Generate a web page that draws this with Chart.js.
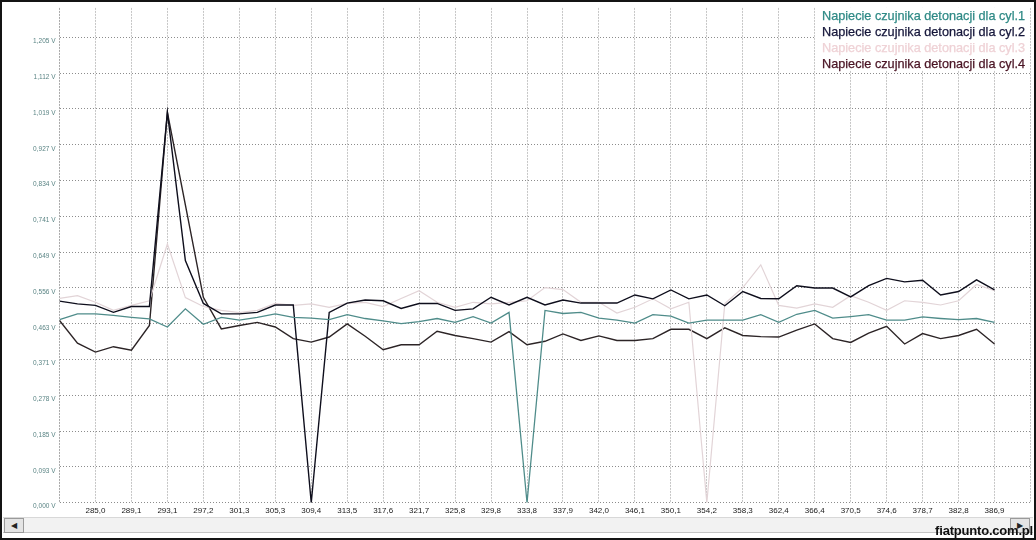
<!DOCTYPE html>
<html lang="pl">
<head>
    <meta charset="UTF-8">
    <title>Napiecie czujnika detonacji</title>
    <style>
        * {
            margin: 0;
            padding: 0;
            box-sizing: border-box;
        }

        body {
            background-color: #ffffff;
            font-family: 'Liberation Sans', Arial, sans-serif;
        }

        .frame {
            position: relative;
            width: 1036px;
            height: 540px;
            background: #ffffff;
            overflow: hidden;
        }

        .frame canvas {
            position: absolute;
            left: 0;
            top: 0;
        }

        /* black border round the picture */
        .border {
            position: absolute;
            inset: 0;
            border: 2px solid #141414;
            pointer-events: none;
        }

        /* legend in the top right corner */
        .legend {
            position: absolute;
            left: 815px;
            top: 8px;
            width: 215px;
            height: 62px;
            background: #ffffff;
            padding: 0 0 0 7px;
            font-size: 12.7px;
            line-height: 16px;
            white-space: nowrap;
            -webkit-text-stroke: 0.25px;
        }

        /* scrollbar under the plot */
        .scroll {
            position: absolute;
            left: 3px;
            right: 3px;
            top: 517px;
            height: 16px;
            background: #f2f2f2;
            border-top: 1px solid #d8d8d8;
            border-bottom: 1px solid #c4c4c4;
        }

        .btn {
            position: absolute;
            top: 0;
            width: 20px;
            height: 15px;
            background: #e4e4e4;
            border: 1px solid #9a9a9a;
            font-size: 8px;
            line-height: 13px;
            text-align: center;
            color: #222;
        }

        .btn.left { left: 1px; }
        .btn.right { right: 3px; }

        .mark {
            position: absolute;
            right: 3px;
            top: 523px;
            font-size: 13px;
            font-weight: bold;
            color: #111;
            letter-spacing: -0.2px;
        }
    </style>
</head>
<body>

<div class="frame">
    <canvas id="knockChart" width="1036" height="540"></canvas>

    <div class="legend">
        <div style="color:#2f8a86">Napiecie czujnika detonacji dla cyl.1</div>
        <div style="color:#15163a">Napiecie czujnika detonacji dla cyl.2</div>
        <div style="color:#efd2d6">Napiecie czujnika detonacji dla cyl.3</div>
        <div style="color:#4a1424">Napiecie czujnika detonacji dla cyl.4</div>
    </div>

    <div class="scroll">
        <div class="btn left">&#9664;</div>
        <div class="btn right">&#9654;</div>
    </div>
    <div class="mark">fiatpunto.com.pl</div>
    <div class="border"></div>
</div>

<script src="https://cdn.jsdelivr.net/npm/chart.js"></script>
<script>
    // Tick labels
    const xTickLabels = ['285,0', '289,1', '293,1', '297,2', '301,3', '305,3', '309,4', '313,5', '317,6',
        '321,7', '325,8', '329,8', '333,8', '337,9', '342,0', '346,1', '350,1', '354,2', '358,3',
        '362,4', '366,4', '370,5', '374,6', '378,7', '382,8', '386,9'];

    const yTickValues = [0, 0.0927, 0.1854, 0.2781, 0.3708, 0.4635, 0.5562, 0.6488, 0.7415,
        0.8342, 0.9269, 1.0196, 1.1123, 1.2050];
    const yTickLabels = ['0,000 V', '0,093 V', '0,185 V', '0,278 V', '0,371 V', '0,463 V', '0,556 V',
        '0,649 V', '0,741 V', '0,834 V', '0,927 V', '1,019 V', '1,112 V', '1,205 V'];

    // Sensor voltage per sample (V), one sample every half tick
    const cyl1 = [0.474, 0.489, 0.489, 0.485, 0.480, 0.476, 0.455, 0.502, 0.462, 0.480,
        0.473, 0.480, 0.489, 0.480, 0.478, 0.474, 0.487, 0.477, 0.471, 0.464,
        0.469, 0.477, 0.467, 0.482, 0.465, 0.493, 0.000, 0.498, 0.490, 0.493,
        0.478, 0.473, 0.465, 0.487, 0.483, 0.465, 0.473, 0.473, 0.473, 0.487,
        0.467, 0.488, 0.498, 0.478, 0.482, 0.487, 0.473, 0.473, 0.481, 0.477,
        0.474, 0.477, 0.467];

    const cyl2 = [0.522, 0.515, 0.511, 0.493, 0.508, 0.508, 1.011, 0.627, 0.516, 0.489,
        0.489, 0.493, 0.512, 0.512, 0.000, 0.493, 0.517, 0.525, 0.523, 0.503,
        0.516, 0.516, 0.498, 0.502, 0.532, 0.512, 0.532, 0.512, 0.525, 0.517,
        0.517, 0.517, 0.538, 0.528, 0.551, 0.528, 0.538, 0.510, 0.547, 0.529,
        0.528, 0.562, 0.556, 0.556, 0.533, 0.562, 0.581, 0.572, 0.576, 0.538,
        0.547, 0.577, 0.551];

    const cyl3 = [0.529, 0.536, 0.519, 0.498, 0.511, 0.523, 0.670, 0.531, 0.508, 0.498,
        0.492, 0.498, 0.516, 0.511, 0.515, 0.506, 0.516, 0.519, 0.508, 0.529,
        0.549, 0.519, 0.506, 0.519, 0.515, 0.519, 0.523, 0.557, 0.552, 0.519,
        0.519, 0.491, 0.506, 0.528, 0.502, 0.519, 0.000, 0.516, 0.557, 0.616,
        0.511, 0.504, 0.515, 0.506, 0.536, 0.519, 0.498, 0.523, 0.519, 0.512,
        0.523, 0.565, 0.549];

    const cyl4 = [0.472, 0.413, 0.390, 0.404, 0.395, 0.459, 1.011, 0.771, 0.532, 0.450,
        0.459, 0.467, 0.455, 0.425, 0.416, 0.429, 0.463, 0.431, 0.396, 0.409,
        0.409, 0.444, 0.433, 0.425, 0.416, 0.443, 0.409, 0.418, 0.437, 0.420,
        0.432, 0.420, 0.420, 0.425, 0.449, 0.449, 0.425, 0.453, 0.433, 0.430,
        0.429, 0.447, 0.463, 0.425, 0.415, 0.439, 0.457, 0.411, 0.438, 0.425,
        0.433, 0.449, 0.411];

    const toPoints = arr => arr.map((v, i) => ({ x: i, y: v }));

    function line(label, data, color, width) {
        return {
            label: label,
            data: toPoints(data),
            borderColor: color,
            borderWidth: width,
            pointRadius: 0,
            tension: 0,
            fill: false
        };
    }

    const ctx = document.getElementById('knockChart').getContext('2d');
    const knockChart = new Chart(ctx, {
        type: 'line',
        data: {
            datasets: [
                line('Napiecie czujnika detonacji dla cyl.1', cyl1, '#4f8c8a', 1.3),
                line('Napiecie czujnika detonacji dla cyl.2', cyl2, '#0e0e1c', 1.4),
                line('Napiecie czujnika detonacji dla cyl.3', cyl3, '#e2d4d7', 1.2),
                line('Napiecie czujnika detonacji dla cyl.4', cyl4, '#2c2426', 1.4)
            ]
        },
        options: {
            responsive: false,
            animation: false,
            devicePixelRatio: 1,
            layout: {
                padding: { left: 0, right: 5.5, top: 7, bottom: 0 }
            },
            plugins: {
                legend: { display: false },
                tooltip: { enabled: false }
            },
            scales: {
                x: {
                    type: 'linear',
                    min: 0,
                    max: 54,
                    afterBuildTicks: scale => {
                        const ticks = [{ value: 0 }];
                        xTickLabels.forEach((_, k) => ticks.push({ value: 2 + 2 * k }));
                        ticks.push({ value: 54 });
                        scale.ticks = ticks;
                    },
                    afterFit: scale => { scale.height = 37.3; },
                    // in v4 border.dash sets the dash of the grid lines
                    border: { display: false, dash: [2, 1] },
                    grid: {
                        color: c => c.tick && c.tick.value === 0 ? '#a8a8a8' : '#c6c6c6',
                        lineWidth: 1,
                        drawTicks: false
                    },
                    ticks: {
                        autoSkip: false,
                        maxRotation: 0,
                        padding: 3,
                        color: '#1a1a1a',
                        font: { family: 'Liberation Sans', size: 8 },
                        callback: value => (value >= 2 && value <= 52) ? xTickLabels[(value - 2) / 2] : ''
                    }
                },
                y: {
                    min: 0,
                    max: 1.2814,
                    afterBuildTicks: scale => {
                        scale.ticks = yTickValues.map(v => ({ value: v }));
                    },
                    afterFit: scale => { scale.width = 59.5; },
                    border: { display: false, dash: [1, 2] },
                    grid: {
                        color: '#8c8c8c',
                        lineWidth: 1,
                        drawTicks: false
                    },
                    ticks: {
                        padding: 4,
                        labelOffset: 4,
                        color: '#5a8484',
                        font: { family: 'Liberation Sans', size: 6.5 },
                        callback: (value, index) => yTickLabels[index]
                    }
                }
            }
        }
    });
</script>

</body>
</html>
